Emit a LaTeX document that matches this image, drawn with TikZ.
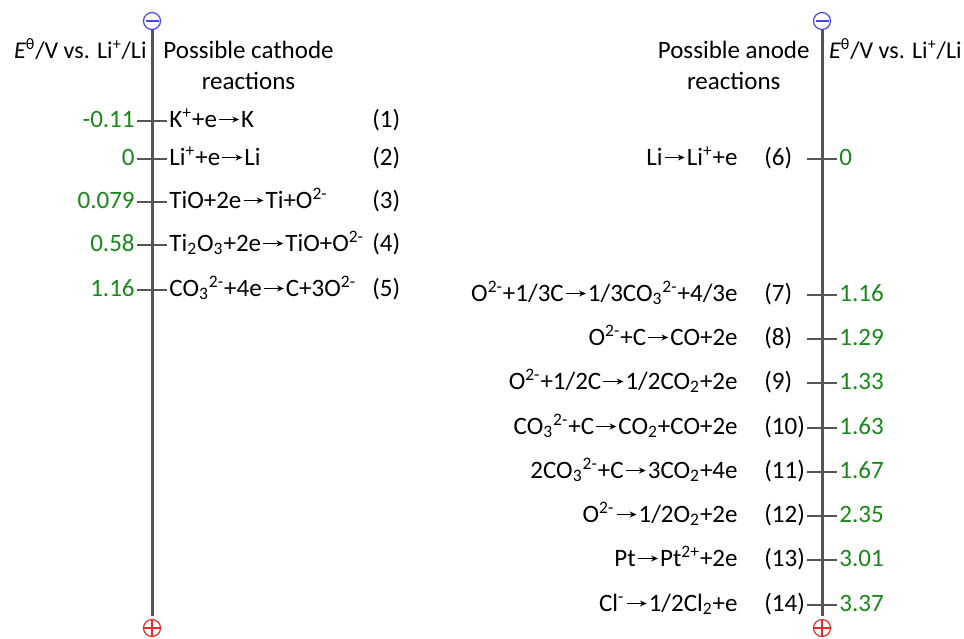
\documentclass[tikz,border=0pt]{standalone}
\usepackage{fontspec}
\setmainfont{Carlito}
\usepackage{xcolor}
\usetikzlibrary{positioning,arrows.meta}

\definecolor{potgreen}{RGB}{25,135,25}
\definecolor{axisgray}{RGB}{85,85,85}
\definecolor{poleblue}{RGB}{70,70,235}
\definecolor{polered}{RGB}{230,45,45}

\newcommand{\rxnarrow}{\hspace{0.8pt}\tikz[baseline=-0.3em]\draw[line width=0.5pt,-{Stealth[length=3.4pt,width=3pt]}] (0,0) -- (10pt,0);\hspace{0.8pt}}

\begin{document}
\begin{tikzpicture}[
  x=0.5pt, y=-0.5pt,
  every node/.style={font=\fontsize{12.5}{15.5}\selectfont, inner sep=1pt},
  axis/.style={draw=axisgray, line width=1.5pt},
  tickmark/.style={draw=axisgray, line width=1pt},
  pole/.style={circle, draw, line width=0.6pt, minimum size=8.5pt,
               inner sep=0pt, fill=white},
  rxn/.style={text height=9pt, text depth=3pt},
  val/.style={rxn, text=potgreen},
  unit/.style={font=\fontsize{12}{15}\selectfont, inner sep=0pt},
]
\useasboundingbox (0,0) rectangle (964,638);

% cathode axis
\node[pole, draw=poleblue] (negC) at (152,21)  {};
\node[pole, draw=polered]  (posC) at (152,628) {};
\draw[poleblue, line width=0.6pt] ([xshift=1.3pt]negC.west) -- ([xshift=-1.3pt]negC.east);
\draw[polered, line width=0.6pt] (posC.west) -- (posC.east) (posC.north) -- (posC.south);
\draw[axis, shorten >=1.5pt] (negC.south) -- (posC.north);

\node[unit, anchor=base east] (hdEC) at (147,58)
  {\textit{E}\textsuperscript{θ}/V vs. Li\textsuperscript{+}/Li};
\node[anchor=base west, align=center] (hdRC) at (161,89) {Possible cathode\\reactions};

\coordinate (c1) at (152,121);
\coordinate (c2) at (152,159);
\coordinate (c3) at (152,202);
\coordinate (c4) at (152,245);
\coordinate (c5) at (152,290);
\foreach \c in {c1,c2,c3,c4,c5}
  \draw[tickmark] ([xshift=-7.5pt]\c) -- ([xshift=7.5pt]\c);

\node[val, anchor=east] (vc1) at ([xshift=-7.5pt]c1) {-0.11};
\node[val, anchor=east] (vc2) at ([xshift=-7.5pt]c2) {0};
\node[val, anchor=east] (vc3) at ([xshift=-7.5pt]c3) {0.079};
\node[val, anchor=east] (vc4) at ([xshift=-7.5pt]c4) {0.58};
\node[val, anchor=east] (vc5) at ([xshift=-7.5pt]c5) {1.16};

\node[rxn, anchor=west] (rc1) at ([xshift=7.5pt]c1) {K\textsuperscript{+}+e\rxnarrow K};
\node[rxn, anchor=west] (rc2) at ([xshift=7.5pt]c2) {Li\textsuperscript{+}+e\rxnarrow Li};
\node[rxn, anchor=west] (rc3) at ([xshift=7.5pt]c3) {TiO+2e\rxnarrow Ti+O\textsuperscript{2-}};
\node[rxn, anchor=west] (rc4) at ([xshift=7.5pt]c4) {Ti\textsubscript{2}O\textsubscript{3}+2e\rxnarrow TiO+O\textsuperscript{2-}};
\node[rxn, anchor=west] (rc5) at ([xshift=7.5pt]c5) {CO\textsubscript{3}\textsuperscript{2-}+4e\rxnarrow C+3O\textsuperscript{2-}};

\node[rxn, anchor=west] (nc1) at (370,121) {(1)};
\node[rxn, anchor=west] (nc2) at (370,159) {(2)};
\node[rxn, anchor=west] (nc3) at (370,202) {(3)};
\node[rxn, anchor=west] (nc4) at (370,245) {(4)};
\node[rxn, anchor=west] (nc5) at (370,290) {(5)};

% anode axis
\node[pole, draw=poleblue] (negA) at (822,21)  {};
\node[pole, draw=polered]  (posA) at (822,628) {};
\draw[poleblue, line width=0.6pt] ([xshift=1.3pt]negA.west) -- ([xshift=-1.3pt]negA.east);
\draw[polered, line width=0.6pt] (posA.west) -- (posA.east) (posA.north) -- (posA.south);
\draw[axis, shorten >=1.5pt] (negA.south) -- (posA.north);

\node[anchor=base east, align=center] (hdRA) at (812,89) {Possible anode\\reactions};
\node[unit, anchor=base east] (hdEA) at (962,58)
  {\textit{E}\textsuperscript{θ}/V vs. Li\textsuperscript{+}/Li};

\coordinate (a6)  at (822,159);
\coordinate (a7)  at (822,295);
\coordinate (a8)  at (822,339);
\coordinate (a9)  at (822,383);
\coordinate (a10) at (822,428);
\coordinate (a11) at (822,472);
\coordinate (a12) at (822,516);
\coordinate (a13) at (822,560);
\coordinate (a14) at (822,605);
\foreach \c in {a6,a7,a8,a9,a10,a11,a12,a13,a14}
  \draw[tickmark] ([xshift=-7.5pt]\c) -- ([xshift=7.5pt]\c);

\node[val, anchor=west] (va6)  at ([xshift=7.5pt]a6)  {0};
\node[val, anchor=west] (va7)  at ([xshift=7.5pt]a7)  {1.16};
\node[val, anchor=west] (va8)  at ([xshift=7.5pt]a8)  {1.29};
\node[val, anchor=west] (va9)  at ([xshift=7.5pt]a9)  {1.33};
\node[val, anchor=west] (va10) at ([xshift=7.5pt]a10) {1.63};
\node[val, anchor=west] (va11) at ([xshift=7.5pt]a11) {1.67};
\node[val, anchor=west] (va12) at ([xshift=7.5pt]a12) {2.35};
\node[val, anchor=west] (va13) at ([xshift=7.5pt]a13) {3.01};
\node[val, anchor=west] (va14) at ([xshift=7.5pt]a14) {3.37};

\node[rxn, anchor=west] (na6)  at (762,159) {(6)};
\node[rxn, anchor=west] (na7)  at (762,295) {(7)};
\node[rxn, anchor=west] (na8)  at (762,339) {(8)};
\node[rxn, anchor=west] (na9)  at (762,383) {(9)};
\node[rxn, anchor=west] (na10) at (762,428) {(10)};
\node[rxn, anchor=west] (na11) at (762,472) {(11)};
\node[rxn, anchor=west] (na12) at (762,516) {(12)};
\node[rxn, anchor=west] (na13) at (762,560) {(13)};
\node[rxn, anchor=west] (na14) at (762,605) {(14)};

\node[rxn, anchor=east] (ra6)  at (740,159) {Li\rxnarrow Li\textsuperscript{+}+e};
\node[rxn, anchor=east] (ra7)  at (740,295) {O\textsuperscript{2-}+1/3C\rxnarrow 1/3CO\textsubscript{3}\textsuperscript{2-}+4/3e};
\node[rxn, anchor=east] (ra8)  at (740,339) {O\textsuperscript{2-}+C\rxnarrow CO+2e};
\node[rxn, anchor=east] (ra9)  at (740,383) {O\textsuperscript{2-}+1/2C\rxnarrow 1/2CO\textsubscript{2}+2e};
\node[rxn, anchor=east] (ra10) at (740,428) {CO\textsubscript{3}\textsuperscript{2-}+C\rxnarrow CO\textsubscript{2}+CO+2e};
\node[rxn, anchor=east] (ra11) at (740,472) {2CO\textsubscript{3}\textsuperscript{2-}+C\rxnarrow 3CO\textsubscript{2}+4e};
\node[rxn, anchor=east] (ra12) at (740,516) {O\textsuperscript{2-}\rxnarrow 1/2O\textsubscript{2}+2e};
\node[rxn, anchor=east] (ra13) at (740,560) {Pt\rxnarrow Pt\textsuperscript{2+}+2e};
\node[rxn, anchor=east] (ra14) at (740,605) {Cl\textsuperscript{-}\rxnarrow 1/2Cl\textsubscript{2}+e};
\end{tikzpicture}
\end{document}
